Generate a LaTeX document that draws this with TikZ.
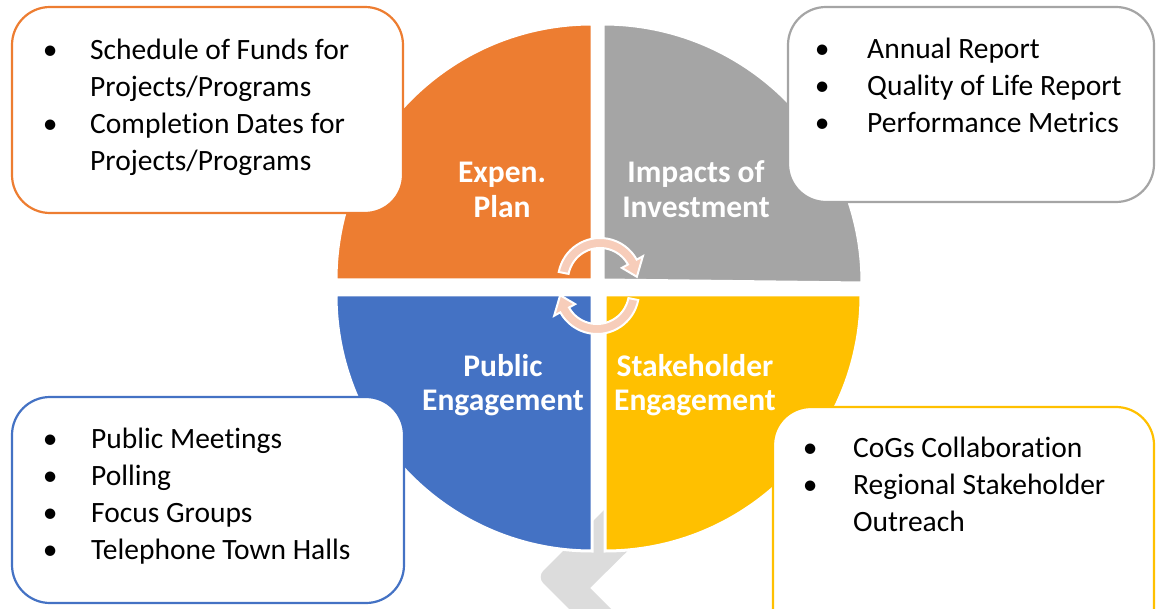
\documentclass[tikz,border=0pt]{standalone}
\usepackage{fontspec}
\setmainfont[Ligatures={NoCommon}]{Carlito}
\definecolor{qOrange}{HTML}{ED7D31}
\definecolor{qGray}{HTML}{A5A5A5}
\definecolor{qBlue}{HTML}{4472C4}
\definecolor{qYellow}{HTML}{FFC000}
\definecolor{chevGray}{HTML}{DCDCDC}
\definecolor{arrPink}{HTML}{F7CDBA}
\newcommand{\bul}[1]{\makebox[40pt]{\textbullet}\hspace{#1pt}}
\begin{document}
\begin{tikzpicture}[x=1pt,y=-1pt,
  quad/.style={fill=#1, draw=white, line width=3pt},
  infobox/.style={draw=#1, fill=white, line width=2.2pt, rounded corners=38pt},
  lst/.style={inner sep=0pt, anchor=base west, font=\fontsize{29.5}{37}\selectfont},
  lbl/.style={inner sep=0pt, anchor=base, text=white, font=\fontsize{31.5}{35}\selectfont\bfseries},
  cyc/.style={fill=arrPink, draw=white, line width=2pt, line join=miter}]
\useasboundingbox (0,0) rectangle (1156,609);
\clip (0,0) rectangle (1156,609);

% background chevron
\fill[chevGray] (590,588) -- (660,519) -- (605,509) [rounded corners=9pt] -- (537,577) [sharp corners] -- (589,629) -- (631,629) -- cycle;

% quadrants
\path[quad=qOrange] (592,280) -- (336,280) arc[start angle=180, end angle=270, radius=256] -- cycle;
\path[quad=qGray]   (603,280) -- (603,24) arc[start angle=270, end angle=360, radius=259] -- cycle;
\path[quad=qBlue]   (592,295) -- (592,551) arc[start angle=90, end angle=180, radius=256] -- cycle;
\path[quad=qYellow] (605,295) -- (861,295) arc[start angle=0, end angle=90, radius=256] -- cycle;

% quadrant labels
\node[lbl] (lO) at (502,183) {\begin{tabular}[t]{@{}c@{}}Expen.\\Plan\end{tabular}};
\node[lbl] (lG) at (696,183) {\begin{tabular}[t]{@{}c@{}}Impacts of\\Investment\end{tabular}};
\node[lbl] (lB) at (503,376) {\begin{tabular}[t]{@{}c@{}}Public\\Engagement\end{tabular}};
\node[lbl] (lY) at (695,376) {\begin{tabular}[t]{@{}c@{}}Stakeholder\\Engagement\end{tabular}};

% center cycle arrows
\coordinate (tc) at (600,280);
\coordinate (bc) at (597,292);
\draw[cyc] ([shift={(191:42)}]tc) arc[start angle=191, end angle=331, radius=42]
  -- ([shift={(331:49)}]tc) -- ([shift={(355:37)}]tc) -- ([shift={(331:25)}]tc)
  -- ([shift={(331:32)}]tc) arc[start angle=331, end angle=191, radius=32] -- cycle;
\draw[cyc] ([shift={(11:42)}]bc) arc[start angle=11, end angle=151, radius=42]
  -- ([shift={(151:49)}]bc) -- ([shift={(175:37)}]bc) -- ([shift={(151:25)}]bc)
  -- ([shift={(151:32)}]bc) arc[start angle=151, end angle=11, radius=32] -- cycle;

% info boxes
\draw[infobox=qOrange] (12,7) rectangle (403,213);
\draw[infobox=qGray]   (788,7) rectangle (1154,202);
\draw[infobox=qBlue]   (12,397) rectangle (404,603);
\draw[infobox=qYellow] (773,407) rectangle (1154,650);

\node[lst] (tO) at (30,59.5) {\begin{tabular}[t]{@{}l@{}l@{}}
  \bul{20} & Schedule of Funds for\\
           & Projects/Programs\\
  \bul{20} & Completion Dates for\\
           & Projects/Programs\end{tabular}};
\node[lst] (tG) at (802,59) {\begin{tabular}[t]{@{}l@{}l@{}}
  \bul{25} & Annual Report\\
  \bul{25} & Quality of Life Report\\
  \bul{25} & Performance Metrics\end{tabular}};
\node[lst] (tB) at (30,448.5) {\begin{tabular}[t]{@{}l@{}l@{}}
  \bul{21} & Public Meetings\\
  \bul{21} & Polling\\
  \bul{21} & Focus Groups\\
  \bul{21} & Telephone Town Halls\end{tabular}};
\node[lst] (tY) at (790,457.5) {\begin{tabular}[t]{@{}l@{}l@{}}
  \bul{23} & CoGs Collaboration\\
  \bul{23} & Regional Stakeholder\\
           & Outreach\end{tabular}};
\end{tikzpicture}
\end{document}
